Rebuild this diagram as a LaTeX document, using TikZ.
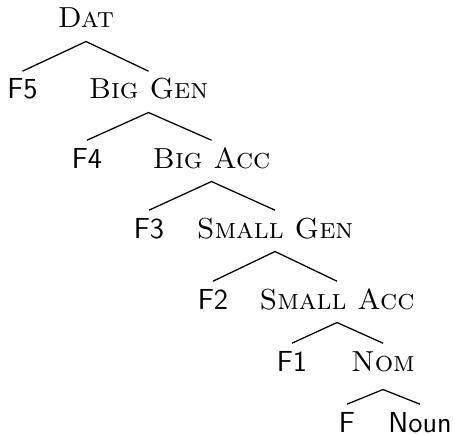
\documentclass[tikz,border=0pt]{standalone}
\begin{document}
\begin{tikzpicture}[x=0.392pt,y=-0.392pt,
  base/.style={anchor=base,inner sep=3.0pt,text height=7.7pt,text depth=2.1pt},
  cat/.style={base,font=\fontsize{11.36}{13}\selectfont\scshape},
  feat/.style={base,font=\fontsize{11.36}{13}\selectfont\sffamily},
  leaf/.style={feat,inner ysep=0pt,text height=10.7pt,text depth=0pt},
  edge/.style={line width=0.5pt}]
\useasboundingbox (0,0) rectangle (455,434);
\node[cat] (dat) at (86,28) {Dat};
\node[feat] (f5) at (22.5,99) {F5};
\node[cat] (biggen) at (148.5,99) {Big Gen};
\node[feat] (f4) at (87,168) {F4};
\node[cat] (bigacc) at (211.5,168) {Big Acc};
\node[feat] (f3) at (149,238) {F3};
\node[cat] (smallgen) at (275,238) {Small Gen};
\node[feat] (f2) at (213,309) {F2};
\node[cat] (smallacc) at (337,309) {Small Acc};
\node[feat] (f1) at (292,371) {F1};
\node[cat,text depth=4.06pt] (nom) at (383,371) {Nom};
\node[leaf] (f) at (347,432) {F};
\node[leaf] (noun) at (420,432) {Noun};
\draw[edge] (f5.north) -- (dat.south) -- (biggen.north);
\draw[edge] (f4.north) -- (biggen.south) -- (bigacc.north);
\draw[edge] (f3.north) -- (bigacc.south) -- (smallgen.north);
\draw[edge] (f2.north) -- (smallgen.south) -- (smallacc.north);
\draw[edge] (f1.north) -- (smallacc.south) -- (nom.north);
\draw[edge] (f.north) -- (nom.south) -- (noun.north);
\end{tikzpicture}
\end{document}
